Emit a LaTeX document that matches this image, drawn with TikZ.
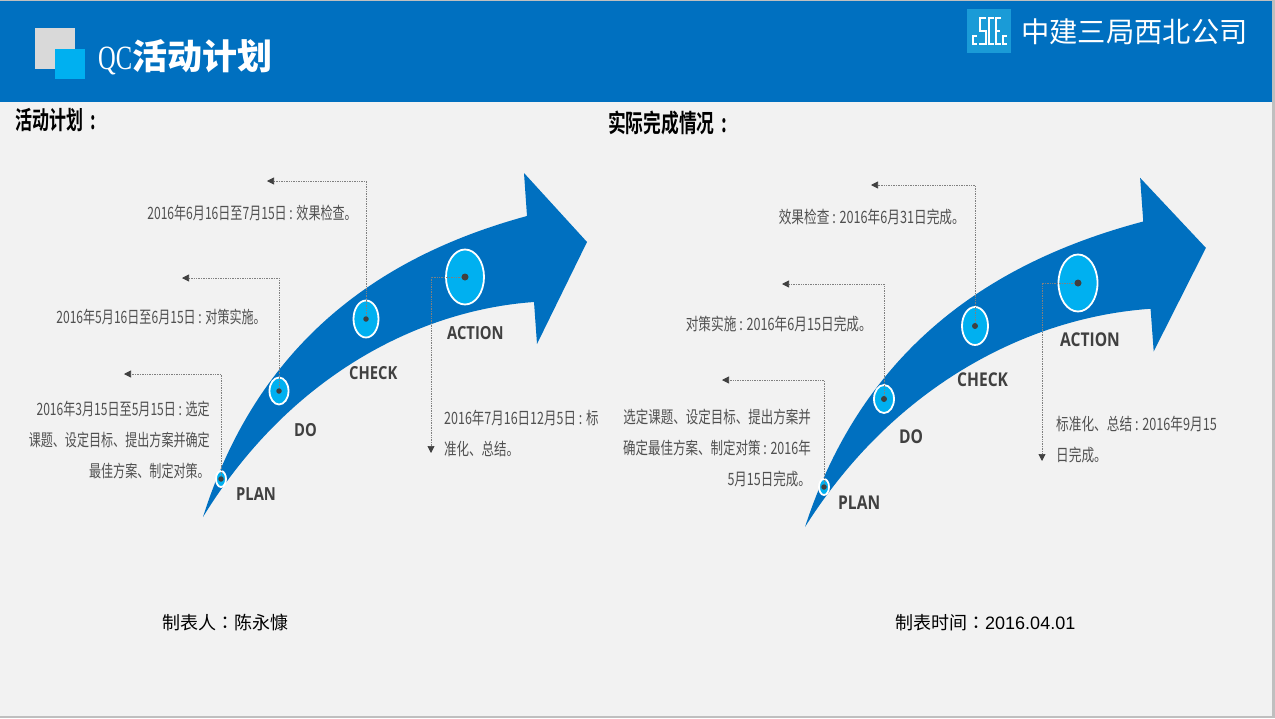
\documentclass[tikz,border=0pt]{standalone}
\usepackage{fontspec}
\usetikzlibrary{arrows.meta,shapes.geometric}
\setmainfont{Liberation Sans}
\newfontfamily\cjkbodyl[FakeStretch=0.71]{Noto Sans CJK SC}
\newfontfamily\cjkbodym[FakeStretch=0.735]{Noto Sans CJK SC}
\newfontfamily\cjkbodyr[FakeStretch=0.745]{Noto Sans CJK SC}
\newfontfamily\cjkheada[FakeStretch=0.68,BoldFont={Noto Sans CJK SC Bold},BoldFeatures={FakeStretch=0.68}]{Noto Sans CJK SC}
\newfontfamily\cjkheadb[FakeStretch=0.71,BoldFont={Noto Sans CJK SC Bold},BoldFeatures={FakeStretch=0.71}]{Noto Sans CJK SC}
\newfontfamily\cjktitle{Noto Sans CJK SC}
\newfontfamily\cjkcolon{Noto Sans CJK TC}
\newfontfamily\qcserif[FakeStretch=0.72]{Liberation Serif}
\newfontfamily\lablat[FakeStretch=0.82,BoldFeatures={FakeStretch=0.82}]{Open Sans}
\definecolor{hdr}{HTML}{0070C0}
\definecolor{pale}{HTML}{F2F2F2}
\definecolor{sky}{HTML}{00B0F0}
\definecolor{sqgrey}{HTML}{D9D9D9}
\definecolor{logoblue}{HTML}{1A9BD7}
\definecolor{txtgrey}{HTML}{505050}
\definecolor{labgrey}{HTML}{404040}
\tikzset{
  bodyl/.style={font=\cjkbodyl\fontsize{17}{31}\selectfont,text=txtgrey,inner sep=0pt},
  bodym/.style={font=\cjkbodym\fontsize{17}{31}\selectfont,text=txtgrey,inner sep=0pt},
  bodyr/.style={font=\cjkbodyr\fontsize{17}{31}\selectfont,text=txtgrey,inner sep=0pt},
  headtxt/.style={text=black,inner sep=0pt,anchor=west},
  foot/.style={font=\cjktitle\fontsize{18}{22}\selectfont,text=black,inner sep=0pt,anchor=west},
  stagelab/.style={font=\lablat\bfseries\fontsize{18}{20}\selectfont,text=labgrey,inner sep=0pt,anchor=west},
  stagelabb/.style={font=\lablat\bfseries\fontsize{19}{20}\selectfont,text=labgrey,inner sep=0pt,anchor=west},
  disc/.style={ellipse,fill=sky,draw=white,line width=1.8pt,inner sep=0pt},
  pin/.style={circle,fill=labgrey,inner sep=0pt,minimum size=#1},
  leader/.style={draw=gray,line width=0.7pt,densely dotted,-{Triangle[length=7pt,width=7pt,color=labgrey]}},
  logostroke/.style={draw=white,line width=1.6pt}
}
\newcommand{\bigarrow}{%
  \fill[hdr] (203,517) .. controls (262,330) and (395,252) .. (527,216)
    -- (524,173) -- (587,242) -- (537,344) -- (534,302)
    .. controls (420,310) and (290,375) .. (203,517) -- cycle;}
\begin{document}
\begin{tikzpicture}[x=1pt,y=-1pt]
\useasboundingbox (0,0) rectangle (1275,718);
\fill[gray!50] (0,0) rectangle (1275,718);
\fill[pale] (0,1) rectangle (1272,716);
\fill[hdr] (0,1) rectangle (1272,102);
% title block
\fill[sqgrey] (35,28) rectangle (75,69);
\fill[sky] (55,49) rectangle (85,79);
\node[inner sep=0pt,anchor=west,text=white] (title) at (98,57) {{\qcserif\fontsize{34}{38}\selectfont QC}{\cjktitle\bfseries\fontsize{35}{39}\selectfont 活动计划}};
% logo
\fill[logoblue] (967,9) rectangle (1011,53);
\draw[logostroke] (977,36) -- (973,36) -- (973,44) -- (977,44);
\draw[logostroke] (986,18) -- (980,18) -- (980,31) -- (986,31) -- (986,44) -- (979,44);
\draw[logostroke] (994,18) -- (989,18) -- (989,44) -- (994,44);
\draw[logostroke] (1001,18) -- (996,18) -- (996,44) -- (1001,44) (996,31) -- (1000,31);
\draw[logostroke] (1007,36) -- (1003,36) -- (1003,44) -- (1007,44);
\node[font=\cjktitle\fontsize{28.3}{32}\selectfont,text=white,inner sep=0pt,anchor=west] (corp) at (1021,32) {中建三局西北公司};
% headings
\node[headtxt,font=\cjkheada\bfseries\fontsize{25}{28}\selectfont] (hl) at (15,120) {活动计划\hspace{3pt} :};
\node[headtxt,font=\cjkheadb\bfseries\fontsize{25}{28}\selectfont] (hr) at (608,123) {实际完成情况\hspace{3pt} :};
% arrows
\bigarrow
\begin{scope}[shift={(805,527)},xscale=1.044,yscale=1.015,shift={(-203,-517)}]
\bigarrow
\end{scope}
% left discs
\node[disc,minimum width=10pt,minimum height=16pt] (lp) at (221,479) {};
\node[disc,minimum width=19pt,minimum height=27pt] (ld) at (279,391) {};
\node[disc,minimum width=25pt,minimum height=37pt] (lc) at (366,319) {};
\node[disc,minimum width=38pt,minimum height=55pt] (la) at (465,277) {};
% right discs
\node[disc,minimum width=10pt,minimum height=16pt] (rp) at (824,487) {};
\node[disc,minimum width=20pt,minimum height=28pt] (rd) at (884,399) {};
\node[disc,minimum width=26pt,minimum height=38pt] (rc) at (975,326) {};
\node[disc,minimum width=39pt,minimum height=57pt] (ra) at (1078,283) {};
% leader ends
\coordinate (lpe) at (124,374);
\coordinate (lde) at (182,278);
\coordinate (lce) at (267,181);
\coordinate (lae) at (431,453);
\coordinate (rpe) at (722,380);
\coordinate (rde) at (782,284);
\coordinate (rce) at (871,185);
\coordinate (rae) at (1042,461);
\draw[leader] (lp.center) |- (lpe);
\draw[leader] (ld.center) |- (lde);
\draw[leader] (lc.center) |- (lce);
\draw[leader] (la.center) -| (lae);
\draw[leader] (rp.center) |- (rpe);
\draw[leader] (rd.center) |- (rde);
\draw[leader] (rc.center) |- (rce);
\draw[leader] (ra.center) -| (rae);
% pins
\node[pin=5.5pt] (lpp) at (lp.center) {};
\node[pin=5.5pt] (ldp) at (ld.center) {};
\node[pin=5.5pt] (lcp) at (lc.center) {};
\node[pin=7pt] (lap) at (la.center) {};
\node[pin=5.5pt] (rpp) at (rp.center) {};
\node[pin=6pt] (rdp) at (rd.center) {};
\node[pin=6pt] (rcp) at (rc.center) {};
\node[pin=7pt] (rap) at (ra.center) {};
% stage labels
\node[stagelab] (lpl) at (236,494) {PLAN};
\node[stagelab] (ldl) at (294,430) {DO};
\node[stagelab] (lcl) at (349,373) {CHECK};
\node[stagelab] (lal) at (447,333) {ACTION};
\node[stagelabb] (rpl) at (838,503) {PLAN};
\node[stagelabb] (rdl) at (899,437) {DO};
\node[stagelabb] (rcl) at (957,380) {CHECK};
\node[stagelabb] (ral) at (1060,340) {ACTION};
% left texts
\node[bodyl,anchor=east] (lt3) at (357,213) {2016年6月16日至7月15日 : 效果检查。};
\node[bodyl,anchor=east] (lt2) at (266,317) {2016年5月16日至6月15日 : 对策实施。};
\node[bodyl,anchor=east,align=right] (lt1) at (210,440) {2016年3月15日至5月15日 : 选定\\课题、设定目标、提出方案并确定\\最佳方案、制定对策。};
\node[bodym,anchor=west,align=left] (lt4) at (444,433.5) {2016年7月16日12月5日 : 标\\准化、总结。};
% right texts
\node[bodyr,anchor=east] (rt3) at (965,217) {效果检查 : 2016年6月31日完成。};
\node[bodyr,anchor=east] (rt2) at (872,324) {对策实施 : 2016年6月15日完成。};
\node[bodym,anchor=east,align=right] (rt1) at (811,448) {选定课题、设定目标、提出方案并\\确定最佳方案、制定对策 : 2016年\\5月15日完成。};
\node[bodyr,anchor=west,align=left] (rt4) at (1056,440) {标准化、总结 : 2016年9月15\\日完成。};
% footers
\node[foot] (fl) at (162,623) {制表人{\cjkcolon ：}陈永慷};
\node[foot] (fr) at (895,623) {制表时间{\cjkcolon ：}{\rmfamily 2016.04.01}};
\end{tikzpicture}
\end{document}
